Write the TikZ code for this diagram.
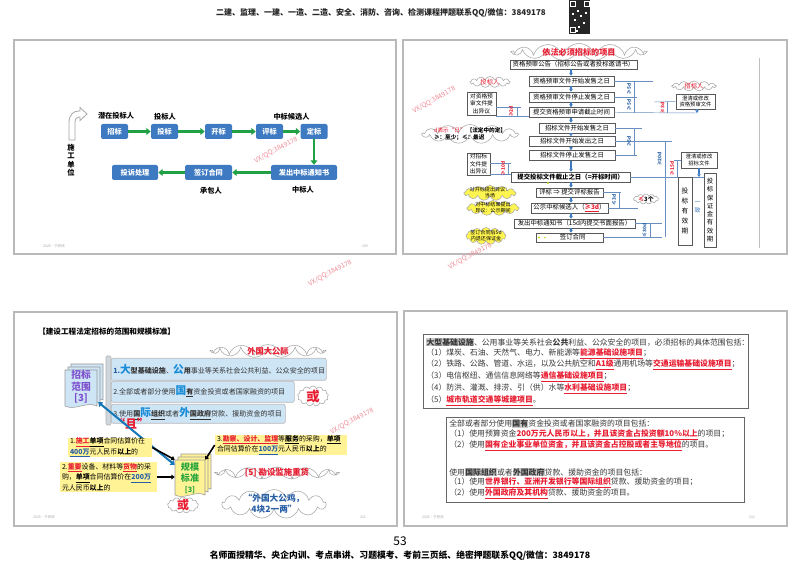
\documentclass[tikz,border=0pt]{standalone}
\usepackage{fontspec}
\setmainfont{Noto Sans CJK SC}
\usetikzlibrary{arrows.meta,shapes.symbols,shapes.geometric,calc}
\definecolor{sblue}{RGB}{62,122,194}
\definecolor{sgreen}{RGB}{34,160,70}
\definecolor{hlred}{RGB}{232,30,50}
\definecolor{wmc}{RGB}{238,140,150}
\definecolor{lblue}{RGB}{206,229,246}
\definecolor{cyell}{RGB}{255,245,80}
\definecolor{pyell}{RGB}{255,243,150}
\definecolor{purp}{RGB}{125,80,205}
\definecolor{darkbl}{RGB}{40,95,165}
\definecolor{bigblue}{RGB}{25,140,215}
\definecolor{ggreen}{RGB}{40,165,60}
\newcommand\fs[2]{\fontsize{#1}{#2}\selectfont}
\newcommand\hr[1]{{\color{hlred}\bfseries\underline{#1}}}
\newcommand\hb[1]{{\color{darkbl}\bfseries\underline{#1}}}
\newcommand\hg[1]{{\setlength\fboxsep{0.2pt}\colorbox{black!22}{\bfseries #1}}}
\newcommand\bigc[1]{{\fontsize{8}{8}\selectfont\color{bigblue}\bfseries #1}}
\newcommand\mystack[5]{%
 \foreach \o in {6,3,0}{%
  \pgfmathsetmacro\xa{#1+\o}\pgfmathsetmacro\ya{#2-\o}%
  \pgfmathsetmacro\xb{#1+\o+#3}\pgfmathsetmacro\yb{#2-\o+#4}%
  \pgfmathsetmacro\xp{#1+\o+#3*0.67}\pgfmathsetmacro\xq{#1+\o+#3*0.33}%
  \filldraw[fill=#5,draw=gray!80,line width=0.4pt] (\xa,\ya) -- (\xb,\ya) -- (\xb,\yb) .. controls (\xp,\yb-5) and (\xq,\yb+5) .. (\xa,\yb) -- cycle;
 }}
\begin{document}
\begin{tikzpicture}[x=0.75pt,y=-0.75pt,
 wh/.style 2 args={minimum width=#1*0.75pt, minimum height=#2*0.75pt},
 bbox/.style={fill=sblue, rounded corners=1.5pt, text=white, font=\fs{5.4}{6}\bfseries, inner sep=0pt},
 garrow/.style={draw=sgreen, line width=1.7pt, -{Triangle[length=3.2pt,width=5pt]}},
 lbl/.style={font=\fs{5.4}{6}\bfseries, inner sep=0pt},
 frm/.style={draw=gray!55, line width=0.8pt},
 sbox/.style={draw=black!65, fill=white, line width=0.5pt, font=\fs{4.8}{5.5}, inner sep=0pt},
 barrow/.style={draw=sblue, line width=0.9pt, -{Triangle[length=2pt,width=2.6pt]}},
 bl/.style={draw=darkbl!70, line width=0.35pt},
 vlab/.style={rotate=90, font=\fs{3.6}{4}\bfseries, text=darkbl, inner sep=0pt},
 rlab/.style={vlab, text=hlred},
 cld/.style={cloud, cloud puffs=13, cloud ignores aspect, draw=gray!70, fill=white, line width=0.4pt, inner sep=0pt},
 ycld/.style={cld, fill=cyell},
 wm/.style={text=wmc, rotate=28, font=\fs{5}{6}, inner sep=0pt},
 tiny/.style={font=\fs{2.6}{3}, text=gray!70, inner sep=0pt},
 ybox/.style={fill=pyell, inner xsep=1.5pt, inner ysep=0pt, font=\fs{5.2}{6.4}, align=left},
 karrow/.style={draw=black, line width=1.2pt, -{Triangle[length=2.5pt,width=3.5pt]}},
 bar/.style={fill=lblue, draw=gray!55, line width=0.5pt, rounded corners=1.5pt, inner sep=0pt},
 txt/.style={anchor=west, inner sep=0pt, font=\fs{5.9}{6.5}, text=black!78},
 bartxt/.style={anchor=west, inner sep=0pt, font=\fs{5.3}{6}, text=black!80}
]
\useasboundingbox (0,0) rectangle (800,566);
\fill[white] (0,0) rectangle (800,566);

% ---------------- header ----------------
\node[font=\fs{6}{7}\bfseries, text=black!85] (hdr) at (381,13) {二建、监理、一建、一造、二造、安全、消防、咨询、检测课程押题联系QQ/微信：3849178};
\fill[black!85] (569,0) rectangle (590,34);
\foreach \a/\b in {570.5/1.5,584/1.5,570.5/27} {\draw[white, line width=0.4pt] (\a,\b) rectangle ++(5,5);}
\foreach \a/\b in {577/10,580/15,574/19,583/22,578/26,572/13,585/12,576/30} {\fill[white] (\a,\b) rectangle ++(2,2);}

% ---------------- slide frames ----------------
\draw[frm] (14,40) rectangle (396,254);
\draw[frm] (403,40) rectangle (787,254);
\draw[frm] (14,312) rectangle (397,526);
\draw[frm] (404,311) rectangle (787,526);

% ---------------- slide 1 ----------------
\filldraw[fill=white, draw=gray!70, line width=0.6pt] (69,140) -- (69,123) .. controls (69,115) and (73,111) .. (79,111) -- (80,111) -- (80,107.5) -- (87,114) -- (80,120.5) -- (80,117) -- (79,117) .. controls (76.5,117) and (75,119) .. (75,123) -- (75,140) -- cycle;
\node[align=center, font=\fs{5.5}{6.4}\bfseries, inner sep=0pt] (sgdw) at (71,160) {施\\工\\单\\位};

\node[bbox, wh={27}{15}] (zb) at (114.5,131.5) {招标};
\node[bbox, wh={27}{15}] (tb) at (164.5,131.5) {投标};
\node[bbox, wh={27}{15}] (kb) at (218.5,131.5) {开标};
\node[bbox, wh={27}{15}] (pb) at (269.5,131.5) {评标};
\node[bbox, wh={27}{15}] (db) at (314,131.5) {定标};
\node[bbox, wh={66}{15}] (fc) at (304,172.5) {发出中标通知书};
\node[bbox, wh={47}{15}] (qd) at (208.5,172.5) {签订合同};
\node[bbox, wh={46}{15}] (ts) at (135,172.5) {投诉处理};
\draw[garrow] (zb) -- (tb);
\draw[garrow] (tb) -- (kb);
\draw[garrow] (kb) -- (pb);
\draw[garrow] (pb) -- (db);
\draw[garrow] (db.south) -- (db.south |- fc.north);
\draw[garrow] (fc) -- (qd);
\draw[garrow] (qd) -- (ts);
\node[lbl] (l1) at (116,116) {潜在投标人};
\node[lbl] (l2) at (165,117) {投标人};
\node[lbl] (l3) at (291.5,117) {中标候选人};
\node[lbl] (l4) at (211,191) {承包人};
\node[lbl] (l5) at (303,190) {中标人};
\node[tiny] (f1) at (54,246) {2025·于欣欣};
\node[tiny] (p1) at (365,246) {209};

% ---------------- slide 2 ----------------
\node[cld, wh={132}{17}] (ttl) at (579,52) {};
\node[font=\fs{6.1}{7}\bfseries, text=hlred, inner sep=0pt] (ttlt) at (579,52) {依法必须招标的项目};
\node[sbox, wh={127}{9}] (b1) at (573.5,64.5) {资格预审公告（招标公告或者投标邀请书）};
\node[sbox, wh={85}{10}] (b2) at (571.5,81) {资格预审文件开始发售之日};
\node[sbox, wh={85}{10}] (b3) at (571.5,97) {资格预审文件停止发售之日};
\node[sbox, wh={85}{10}] (b4) at (571.5,112.5) {提交资格预审申请截止时间};
\node[sbox, wh={76}{10}] (b5) at (577,128) {招标文件开始发售之日};
\node[sbox, wh={86}{10}] (b6) at (572,141.5) {招标文件开始发出之日};
\node[sbox, wh={86}{10}] (b7) at (572,155.5) {招标文件停止发售之日};
\node[sbox, wh={119}{10}, font=\fs{4.8}{5.5}\bfseries] (b8) at (570.5,177) {提交投标文件截止之日（=开标时间）};
\node[sbox, wh={67}{9}] (b9) at (569.5,192.5) {评标 ⇒ 提交评标报告};
\node[sbox, wh={77}{10}] (b10) at (569.5,208) {公示中标候选人（\hr{≥3d}）};
\node[sbox, wh={121}{9}] (b11) at (574.5,223.5) {发出中标通知书（15d内提交书面报告）};
\node[sbox, wh={67}{9}] (b12) at (569.5,237.5) {\quad 签订合同};
\foreach \u/\v in {b1/b2,b2/b3,b3/b4,b4/b5,b5/b6,b6/b7,b7/b8,b8/b9,b9/b10,b10/b11,b11/b12}
  {\draw[barrow] (\u.south -| 571,0) -- (\v.north -| 571,0);}
\fill[yellow!75!green] (548,183) circle[radius=1.2];
\fill[yellow!75!green] (539,237.5) circle[radius=1.2];
\fill[yellow!75!green] (545,237.5) circle[radius=0.8];

% left side
\node[cld, wh={40}{11}] (ctb) at (490,82) {};
\node[font=\fs{4.8}{5}, text=hlred, inner sep=0pt] (ctbt) at (490,82) {投标人};
\node[sbox, wh={29}{23}, align=center, font=\fs{4.3}{5.6}] (ly) at (481.5,103.5) {对资格预\\审文件提\\出异议};
\coordinate (lya) at (521,107);
\coordinate (lyb) at (529,116);
\draw[bl] (ly.east |- lya) -- (lya);
\draw[bl] (ly.east |- lyb) -- (lyb);
\draw[bl] (517,107) -- (517,116);
\node[rlab] (r2d) at (511,111.5) {≥2d};
\node[cld, wh={95}{19}] (dcl) at (470,134) {};
\node[align=left, font=\fs{4.2}{5.6}, inner sep=0pt] (dclt) at (470,134) {{\color{hlred}d表示“日”} \textbf{【法定中的定】}\\ \textbf{≥：至少；≤：最迟}};
\node[sbox, wh={23}{22}, align=center, font=\fs{4.3}{5.6}] (lz) at (478.5,164) {对招标\\文件提\\出异议};
\coordinate (lza) at (511,163);
\coordinate (lzb) at (511,174);
\draw[bl] (lz.east |- lza) -- (lza);
\draw[bl] (lz.east |- lzb) -- (lzb);
\draw[bl] (508,163) -- (508,174);
\node[rlab] (r10d) at (503,168.5) {≥10d};
\node[ycld, wh={52}{15}] (y1) at (490,193) {};
\node[align=center, font=\fs{3.8}{4.6}, inner sep=0pt] (y1t) at (490,193) {对开标提出异议：\\当场};
\node[ycld, wh={52}{15}] (y2) at (493,208) {};
\node[align=center, font=\fs{3.8}{4.6}, inner sep=0pt] (y2t) at (493,208) {对中标结果提出\\异议：公示期间};
\node[ycld, wh={40}{17}] (y3) at (486,236) {};
\node[align=center, font=\fs{3.8}{4.6}, inner sep=0pt] (y3t) at (486,236) {签订合同后5d\\内退还保证金};

% right side (prequalification)
\coordinate (r1) at (653,81);
\coordinate (r2) at (637,97);
\coordinate (r3) at (697,113);
\draw[bl] (b2.east) -- (r1);
\draw[bl] (b3.east) -- (r2);
\draw[bl] (b4.east) -- (r3);
\draw[bl] (634,81) -- (634,113);
\node[vlab] (v51) at (629,89) {≥5d};
\node[vlab] (v52) at (629,105) {≥5d};
\node[cld, wh={44}{10}] (czb) at (694,86) {};
\node[font=\fs{4.8}{5}, text=hlred, inner sep=0pt] (czbt) at (694,86) {招标人};
\node[sbox, wh={39}{15}, align=center, font=\fs{4}{5}] (cq1) at (695.5,101.5) {澄清或修改\\资格预审文件};
\coordinate (r4) at (654,102);
\draw[bl] (r4) -- (cq1.west);
\draw[bl] (667,102) -- (667,113);
\node[rlab] (v31) at (662.5,108) {≥3d};
\draw[barrow] (cq1.south -| r3) -- (r3);

% right side (bidding)
\coordinate (s1) at (642,128);
\coordinate (s2) at (637,155.5);
\coordinate (s3) at (672,141.5);
\coordinate (s4) at (705,177);
\draw[bl] (b5.east) -- (s1);
\draw[bl] (b7.east) -- (s2);
\draw[bl] (b6.east) -- (s3);
\draw[bl] (b8.east) -- (s4);
\draw[bl] (634,128) -- (634,155.5);
\node[vlab] (v53) at (629,141.5) {≥5d};
\draw[bl] (665,141.5) -- (665,237.5);
\node[vlab] (v20) at (659.5,159) {≥20d};
\node[sbox, wh={36}{16}, align=center, font=\fs{4}{5}] (cq2) at (699,160) {澄清或修改\\招标文件};
\coordinate (s5) at (674,160);
\draw[bl] (s5) -- (cq2.west);
\draw[bl] (677,160) -- (677,177);
\node[rlab] (v15) at (672,168.5) {≥15d};
\draw[barrow] (cq2.south) -- (cq2.south |- s4);
\node[sbox, wh={14}{68}, align=center, font=\fs{5}{7.6}] (yxq) at (685,211) {投\\标\\有\\效\\期};
\node[sbox, wh={12}{74}, align=center, font=\fs{4.8}{6.2}] (bzj) at (710,210) {投\\标\\保\\证\\金\\有\\效\\期};
\node[align=center, font=\fs{4.4}{6}, text=sblue, inner sep=0pt] (yz) at (697.5,207) {一\\致};
\coordinate (t1) at (621,192.5);
\coordinate (t2) at (638,208);
\draw[bl] (b9.east) -- (t1);
\draw[bl] (b10.east) -- (t2);
\draw[bl] (619,192.5) -- (619,208);
\node[vlab] (v3d) at (614,200) {≤3d};
\node[cld, wh={25}{10}] (c3g) at (646,199) {};
\node[font=\fs{4.4}{5}\bfseries, inner sep=0pt] (c3gt) at (646,199) {{\color{hlred}≤}3个};
\coordinate (t3) at (662,223.5);
\coordinate (t4) at (662,237.5);
\draw[bl] (b11.east) -- (t3);
\draw[bl] (b12.east) -- (t4);
\draw[bl] (650,223.5) -- (650,237.5);
\node[vlab] (v30) at (644.5,230.5) {≤30d};
\draw[gray!50, line width=0.6pt] (759,58) -- (759,248);

% ---------------- slide 3 ----------------
\node[anchor=west, font=\fs{5.7}{6.5}\bfseries, inner sep=0pt] (s3t) at (38,332) {【建设工程法定招标的范围和规模标准】};
\mystack{65}{370}{32}{36}{lblue}
\node[wh={34}{38}, inner sep=0pt] (zbfw) at (81,388) {};
\node[align=center, font=\fs{7.3}{8.6}\bfseries, text=purp, inner sep=0pt] (zbfwt) at (81,387) {招标\\范围\\{[3]}};
\filldraw[fill=lblue!60!gray!60, draw=gray!60, line width=0.4pt, rounded corners=1pt] (106,356) rectangle (111,425);
\node[bar, wh={215}{22}, anchor=north west] (bar1) at (111,358) {};
\node[bar, wh={183}{21}, anchor=north west] (bar2) at (111,381) {};
\node[bar, wh={174}{19}, anchor=north west] (bar3) at (111,404) {};
\node[bartxt] (bt1) at (113,369.5) {{\bfseries\color{darkbl}1.}\bigc{大}\textbf{型基础设施}、\bigc{公}\textbf{用}事业等关系社会公共利益、公众安全的项目};
\node[bartxt] (bt2) at (113,391.5) {2.全部或者部分使用\bigc{国}\textbf{\underline{有}}资金投资或者国家融资的项目};
\node[bartxt] (bt3) at (113,413.5) {3.使用\textbf{\underline{国}}\bigc{际}\textbf{\underline{组织}}或者\bigc{外}\textbf{\underline{国政府}}贷款、援助资金的项目};
\node[cld, wh={112}{13}] (wgd) at (268,351) {};
\node[font=\fs{6.2}{7}\bfseries, text=hlred, inner sep=0pt] (wgdt) at (268,351) {外国大公际};
\node[cld, wh={31}{20}] (huo1) at (313,396) {};
\node[font=\fs{10}{11}\bfseries, text=hlred, inner sep=0pt] (huo1t) at (313,396) {或};
\node[font=\fs{9}{10}\bfseries, text=hlred, inner sep=0pt] (qie) at (131,424) {“且”};
\mystack{175}{460}{30}{35}{pyell}
\node[wh={30}{35}, inner sep=0pt] (gmbz) at (190,477.5) {};
\node[align=center, font=\fs{6.8}{8.2}\bfseries, text=ggreen, inner sep=0pt] (gmbzt) at (190,478) {规模\\标准\\{\fs{5.5}{6}[3]}};
\draw[draw=bigblue!85!black, line width=1.5pt, {Triangle[length=3pt,width=4.5pt]}-{Triangle[length=3pt,width=4.5pt]}] (zbfw) -- (gmbz);
\node[ybox, wh={84}{19}, text width=80*0.75pt] (ya) at (110,447.5) {1.\hr{施工}\textbf{\underline{单项}}合同估算价在\\\hb{400万}元人民币\textbf{以上}的};
\node[ybox, wh={97}{30}, text width=93*0.75pt] (yb) at (108.5,477) {2.\hr{重要}设备、材料等\hr{货物}的采\\购，\textbf{\underline{单项}}合同估算价在\hb{200万}\\元人民币\textbf{以上}的};
\node[ybox, wh={132}{20}, text width=128*0.75pt] (yc) at (281,445) {3.\hr{勘察、设计、监理}等\textbf{\underline{服务}}的采购，\textbf{\underline{单项}}\\合同估算价在\hb{100万}元人民币\textbf{以上}的};
\draw[karrow] (ya.east) -- (gmbz.north west);
\draw[karrow] (yb.east) -- (yb.east -| gmbz.west);
\draw[karrow] (yc.west) -- (gmbz.north east);
\node[cld, wh={31}{16}] (huo2) at (183,505) {};
\node[font=\fs{9}{10}\bfseries, text=hlred, inner sep=0pt] (huo2t) at (183,505) {或};
\node[cld, wh={120}{12}] (kss) at (277,473) {};
\node[font=\fs{6.3}{7}\bfseries, text=hlred, inner sep=0pt] (ksst) at (277,473) {[5] 勘设监施重货};
\node[cld, wh={104}{29}] (wgj) at (274,504) {};
\node[align=center, font=\fs{6.5}{8.5}\bfseries, text=darkbl, inner sep=0pt] (wgjt) at (274,504) {“外国大公鸡，\\4块2一两”};
\node[tiny] (f3) at (44,517) {2025·于欣欣};
\node[tiny] (p3) at (363,517) {211};

% ---------------- slide 4 ----------------
\node[draw=black!60, line width=0.7pt, wh={325}{74}, anchor=north west, inner sep=0pt] (box1) at (423,334) {};
\node[txt] (a1) at (426,342) {\hg{大型基础设施}、公用事业等关系社会\textbf{公共}利益、公众安全的项目，必须招标的具体范围包括：};
\node[txt] (a2) at (426,353.5) {（1）煤炭、石油、天然气、电力、新能源等\hr{能源基础设施项目}；};
\node[txt] (a3) at (426,365) {（2）铁路、公路、管道、水运，以及公共航空和\hr{A1级}通用机场等\hr{交通运输基础设施项目}；};
\node[txt] (a4) at (426,377) {（3）电信枢纽、通信信息网络等\hr{通信基础设施项目}；};
\node[txt] (a5) at (426,389) {（4）防洪、灌溉、排涝、引（供）水等\hr{水利基础设施项目}；};
\node[txt] (a6) at (426,401) {（5）\hr{城市轨道交通等城建项目}。};
\node[draw=black!60, line width=0.7pt, wh={298}{85}, anchor=north west, inner sep=0pt] (box2) at (446,417) {};
\node[txt] (m1) at (449,424) {全部或者部分使用\hg{国有}资金投资或者国家融资的项目包括：};
\node[txt] (m2) at (449,435) {（1）使用预算资金\hr{200万元人民币以上，并且该资金占投资额10\%以上}的项目；};
\node[txt] (m3) at (449,446) {（2）使用\hr{国有企业事业单位资金，并且该资金占控股或者主导地位}的项目。};
\node[txt] (m4) at (449,472) {使用\hg{国际组织}或者\hg{外国政府}贷款、援助资金的项目包括：};
\node[txt] (m5) at (449,483) {（1）使用\hr{世界银行、亚洲开发银行等国际组织}贷款、援助资金的项目；};
\node[txt] (m6) at (449,494) {（2）使用\hr{外国政府及其机构}贷款、援助资金的项目。};
\node[tiny] (f4) at (433,517) {2025·于欣欣};
\node[tiny] (p4) at (752,517) {212};

% ---------------- watermarks ----------------
\node[wm] (w1) at (276,150) {VX/QQ:3849178};
\node[wm] (w2) at (330,273) {VX/QQ:3849178};
\node[wm, rotate=2] (w3) at (434,100) {VX/QQ:3849178};
\node[wm] (w4) at (470,256) {VX/QQ:3849178};
\node[wm] (w5) at (352,421) {VX/QQ:3849178};

% ---------------- footer ----------------
\node[font=\fs{9}{10}, inner sep=0pt] (pg) at (400,541) {53};
\node[font=\fs{6.6}{7.5}\bfseries, inner sep=0pt] (ftr) at (400,556) {名师面授精华、央企内训、考点串讲、习题模考、考前三页纸、绝密押题联系QQ/微信：3849178};
\end{tikzpicture}
\end{document}
